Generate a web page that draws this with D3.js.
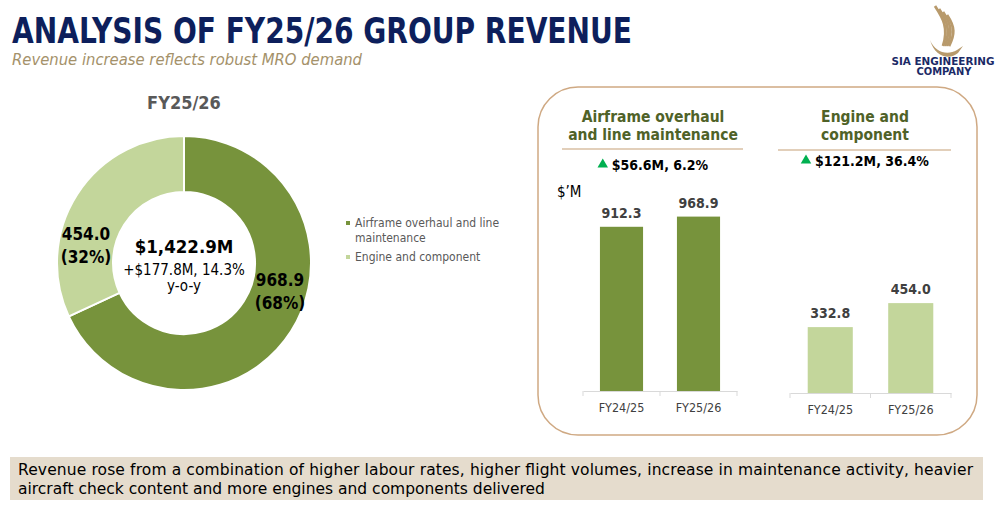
<!DOCTYPE html>
<html>
<head>
<meta charset="utf-8">
<script src="https://cdn.jsdelivr.net/npm/d3@7"></script>
<style>
  body { margin: 0; background: #fff; }
  text { font-family: "DejaVu Sans Condensed", "DejaVu Sans", sans-serif; }
</style>
</head>
<body>
<div id="chart"></div>
<script>
// 1: DATA
const donutCategories = ["Airframe overhaul and line maintenance", "Engine and component"];
const donutValues = [968.9, 454.0];
const donutTotal = "$1,422.9M";
const donutChange = ["+$177.8M, 14.3%", "y-o-y"];
const barYears = ["FY24/25", "FY25/26"];
const airframeValues = [912.3, 968.9];
const engineValues = [332.8, 454.0];
const changeLabels = ["$56.6M, 6.2%", "$121.2M, 36.4%"];

const dark = "#77933c", light = "#c3d69b";

// 2: SVG
const width = 1000, height = 509;
const svg = d3.select("#chart")
    .append("svg")
    .attr("width", width)
    .attr("height", height);

// title + subtitle
svg.append("text")
    .attr("x", 12).attr("y", 43)
    .attr("textLength", 620).attr("lengthAdjust", "spacingAndGlyphs")
    .style("font-size", "35px").style("font-weight", "bold").style("fill", "#0d1f5c")
    .text("ANALYSIS OF FY25/26 GROUP REVENUE");

svg.append("text")
    .attr("x", 12).attr("y", 65)
    .attr("textLength", 350).attr("lengthAdjust", "spacingAndGlyphs")
    .style("font-size", "16px").style("font-style", "italic").style("fill", "#a4916a")
    .text("Revenue increase reflects robust MRO demand");

// logo (rough)
const logo = svg.append("g");
const gold = "#b89a6c";
[0, 1, 2, 3].forEach(i => {
  logo.append("path")
    .attr("d", `M${935 + i * 4},${6 + i * 3} C${943 + i * 4},${18 + i * 3} ${949 + i * 2},${28 + i * 2} ${943 + i * 2},${46}`)
    .style("fill", "none").style("stroke", gold).style("stroke-width", 2.8);
});
logo.append("path")
  .attr("d", "M930,40 C935,52 947,56 957,50 L963,46 L958,53 C950,60 935,58 930,40 Z")
  .style("fill", gold);
logo.append("text").attr("x", 943).attr("y", 65).attr("text-anchor", "middle")
  .attr("textLength", 103).attr("lengthAdjust", "spacingAndGlyphs")
  .style("font-size", "10px").style("font-weight", "bold").style("fill", "#1b2a66")
  .text("SIA ENGINEERING");
logo.append("text").attr("x", 944).attr("y", 75).attr("text-anchor", "middle")
  .attr("textLength", 55).attr("lengthAdjust", "spacingAndGlyphs")
  .style("font-size", "10px").style("font-weight", "bold").style("fill", "#1b2a66")
  .text("COMPANY");

// 3: DONUT
const cx = 184, cy = 263;
const pie = d3.pie().sort(null).value(d => d);
const arc = d3.arc().innerRadius(71).outerRadius(127);
const donut = svg.append("g").attr("transform", `translate(${cx},${cy})`);
const colors = d3.scaleOrdinal().domain(donutCategories).range([dark, light]);

donut.selectAll("path")
    .data(pie(donutValues))
    .enter()
    .append("path")
    .attr("d", arc)
    .style("fill", (d, i) => colors(donutCategories[i]))
    .style("stroke", "#fff")
    .style("stroke-width", 2);

svg.append("text")
    .attr("x", cx).attr("y", 109).attr("text-anchor", "middle")
    .style("font-size", "18px").style("font-weight", "bold").style("fill", "#595959")
    .text("FY25/26");

donut.append("text").attr("y", -10).attr("text-anchor", "middle")
    .style("font-size", "18.5px").style("font-weight", "bold").style("fill", "#000")
    .text(donutTotal);
donut.selectAll(".chg")
    .data(donutChange).enter()
    .append("text").attr("class", "chg")
    .attr("y", (d, i) => 12 + i * 16).attr("text-anchor", "middle")
    .style("font-size", "15px").style("fill", "#000")
    .text(d => d);

// slice labels
const total = d3.sum(donutValues);
const labelPos = [[96, 23], [-98, -23]];
donutValues.forEach((v, i) => {
  const t = donut.append("text")
      .attr("text-anchor", "middle")
      .style("font-size", "17px").style("font-weight", "bold").style("fill", "#000");
  t.append("tspan").attr("x", labelPos[i][0]).attr("y", labelPos[i][1]).text(d3.format(".1f")(v));
  t.append("tspan").attr("x", labelPos[i][0]).attr("y", labelPos[i][1] + 23)
      .text(`(${Math.round(v / total * 100)}%)`);
});

// legend
const legend = svg.selectAll(".legend")
    .data(donutCategories)
    .enter()
    .append("g")
    .attr("class", "legend")
    .attr("transform", (d, i) => `translate(346, ${i === 0 ? 223 : 257})`);
legend.append("rect")
    .attr("x", 0).attr("y", -2).attr("width", 4).attr("height", 4)
    .style("fill", d => colors(d));
legend.append("text")
    .attr("x", 9).attr("y", 4)
    .style("font-size", "12px").style("fill", "#595959")
    .each(function(d, i) {
      const lines = i === 0 ? ["Airframe overhaul and line", "maintenance"] : [d];
      lines.forEach((l, j) => d3.select(this).append("tspan").attr("x", 9).attr("dy", j ? 15 : 0).text(l));
    });

// 4: BAR PANEL
svg.append("rect")
    .attr("x", 538).attr("y", 87).attr("width", 439).attr("height", 348)
    .attr("rx", 40).attr("ry", 40)
    .style("fill", "none").style("stroke", "#cfa983").style("stroke-width", 1.5);

svg.append("text").attr("x", 557).attr("y", 197)
    .style("font-size", "15px").style("fill", "#000").text("$\u2019M");

function drawPanel(cfg) {
  const g = svg.append("g");
  const x = d3.scaleBand().domain(barYears).range(cfg.xr).paddingInner(0.44).paddingOuter(0.22);
  const y = d3.scaleLinear().domain([0, cfg.ymax]).range([cfg.base, cfg.base - cfg.h]);

  // header
  g.selectAll(".hdr").data(cfg.title).enter()
    .append("text").attr("class", "hdr")
    .attr("x", cfg.cx).attr("y", (d, i) => cfg.titleY + i * 18)
    .attr("text-anchor", "middle")
    .style("font-size", "15.5px").style("font-weight", "bold").style("fill", "#4f6228")
    .text(d => d);
  g.append("line")
    .attr("x1", cfg.sep[0]).attr("x2", cfg.sep[1])
    .attr("y1", cfg.sepY).attr("y2", cfg.sepY)
    .style("stroke", "#d8bfa3").style("stroke-width", 1.5);

  const chg = g.append("text").attr("x", cfg.cx + 7).attr("y", cfg.chgY)
    .attr("text-anchor", "middle")
    .style("font-size", "14px").style("font-weight", "bold").style("fill", "#000")
    .text(cfg.change);
  const w = chg.node().getComputedTextLength();
  g.append("path")
    .attr("d", d3.symbol(d3.symbolTriangle, 48)())
    .attr("transform", `translate(${cfg.cx + 7 - w / 2 - 9},${cfg.chgY - 5.5})`)
    .style("fill", "#00b050");

  // bars
  g.selectAll(".bar").data(cfg.values).enter()
    .append("rect").attr("class", "bar")
    .attr("x", (d, i) => x(barYears[i]))
    .attr("y", d => y(d))
    .attr("width", x.bandwidth())
    .attr("height", d => y(0) - y(d))
    .style("fill", cfg.color);

  g.selectAll(".val").data(cfg.values).enter()
    .append("text").attr("class", "val")
    .attr("x", (d, i) => x(barYears[i]) + x.bandwidth() / 2)
    .attr("y", d => y(d) - 9)
    .attr("text-anchor", "middle")
    .style("font-size", "14px").style("font-weight", "bold").style("fill", "#404040")
    .text(d => d3.format(".1f")(d));

  // axis
  const axis = g.append("g")
    .attr("transform", `translate(0,${cfg.base})`)
    .call(d3.axisBottom(x).tickSize(0).tickPadding(12));
  axis.select(".domain").style("stroke", "#d9d9d9");
  axis.selectAll("text").style("font-size", "12.5px").style("fill", "#404040")
    .style("font-family", "\"DejaVu Sans Condensed\", \"DejaVu Sans\", sans-serif");
  const step = x.step();
  const bounds = [cfg.xr[0], x(barYears[0]) + x.bandwidth() + (step - x.bandwidth()) / 2, cfg.xr[1]];
  g.selectAll(".btick").data(bounds).enter()
    .append("line").attr("class", "btick")
    .attr("x1", d => d).attr("x2", d => d)
    .attr("y1", cfg.base).attr("y2", cfg.base + 5)
    .style("stroke", "#d9d9d9");
}

drawPanel({
  title: ["Airframe overhaul", "and line maintenance"], cx: 653, titleY: 122,
  sep: [562, 743], sepY: 149, change: changeLabels[0], chgY: 170,
  values: airframeValues, color: dark, xr: [583, 737], base: 391, ymax: 1000, h: 180
});
drawPanel({
  title: ["Engine and", "component"], cx: 865, titleY: 122,
  sep: [778, 951], sepY: 150, change: changeLabels[1], chgY: 166,
  values: engineValues, color: light, xr: [790, 951], base: 393, ymax: 500, h: 99
});

// 5: BOTTOM NOTE
svg.append("rect")
    .attr("x", 10).attr("y", 457).attr("width", 973).attr("height", 43)
    .style("fill", "#e5dccd");
svg.append("text").attr("x", 18).attr("y", 475)
    .attr("textLength", 955).attr("lengthAdjust", "spacing")
    .style("font-size", "15.5px").style("fill", "#000")
    .style("font-family", "\"DejaVu Sans\", sans-serif")
    .text("Revenue rose from a combination of higher labour rates, higher flight volumes, increase in maintenance activity, heavier");
svg.append("text").attr("x", 18).attr("y", 494)
    .style("font-size", "15.5px").style("fill", "#000")
    .style("font-family", "\"DejaVu Sans\", sans-serif")
    .text("aircraft check content and more engines and components delivered");
</script>
</body>
</html>
